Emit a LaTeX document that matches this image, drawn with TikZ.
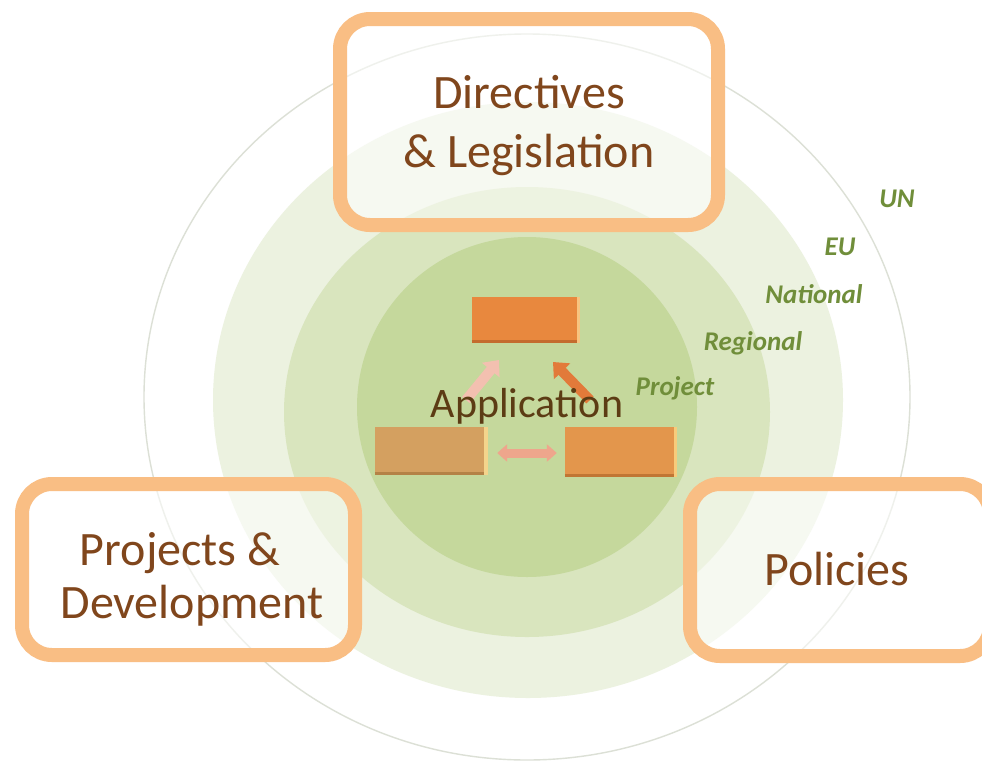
\documentclass[tikz,border=0pt]{standalone}
\usepackage{fontspec}
\setmainfont{Carlito}
\usetikzlibrary{arrows.meta}
\definecolor{ringline}{RGB}{220,224,214}
\definecolor{ringA}{RGB}{236,242,224}
\definecolor{ringB}{RGB}{217,229,190}
\definecolor{ringC}{RGB}{197,216,156}
\definecolor{boxline}{RGB}{249,190,132}
\definecolor{boxtext}{RGB}{128,70,28}
\definecolor{apptext}{RGB}{92,60,20}
\definecolor{lvltext}{RGB}{112,142,58}
\definecolor{blkA}{RGB}{232,136,62}
\definecolor{blkAb}{RGB}{247,196,128}
\definecolor{blkAs}{RGB}{196,108,46}
\definecolor{blkB}{RGB}{212,160,96}
\definecolor{blkBb}{RGB}{244,212,140}
\definecolor{blkBs}{RGB}{180,130,70}
\definecolor{blkC}{RGB}{227,150,76}
\definecolor{blkCb}{RGB}{247,204,124}
\definecolor{blkCs}{RGB}{192,118,52}
\definecolor{arrPink}{RGB}{243,192,176}
\definecolor{arrOrange}{RGB}{226,122,58}
\definecolor{arrSalmon}{RGB}{238,166,140}
\tikzset{
  framebox/.style={draw=boxline, line width=14pt, rounded corners=30pt, fill=white, fill opacity=0.55, inner sep=0pt},
  bigtext/.style={anchor=base, text=boxtext, font=\fontsize{48}{58}\selectfont, inner sep=0pt},
  lvl/.style={anchor=base, text=lvltext, font=\fontsize{27}{32}\selectfont\bfseries\itshape, inner sep=0pt},
  blk/.style={rectangle, inner sep=0pt},
  blkarrow/.style={line width=10pt, -{Triangle[length=13pt,width=22pt]}},
  dblarrow/.style={line width=9pt, {Triangle[length=10pt,width=17pt]}-{Triangle[length=10pt,width=17pt]}},
}
\begin{document}
\begin{tikzpicture}[x=1pt,y=-1pt]
\useasboundingbox (0,0) rectangle (982,769);
\fill[white] (0,0) rectangle (982,769);
% rings
\fill[ringA] (528,400) ellipse [x radius=315, y radius=298];
\fill[ringB] (527,412) ellipse [x radius=243, y radius=225];
\fill[ringC] (527,407) ellipse [x radius=170, y radius=170];
\draw[ringline, line width=1.4pt] (527,397) ellipse [x radius=383, y radius=363];
% level labels
\node[lvl] (un) at (897,207) {UN};
\node[lvl] (eu) at (840,255) {EU};
\node[lvl] (nat) at (814,303) {National};
\node[lvl] (reg) at (753,350) {Regional};
\node[lvl] (proj) at (675,395) {Project};
% frame boxes
\node[framebox, minimum width=378pt, minimum height=206pt] (dir) at (529,122) {};
\node[framebox, minimum width=333pt, minimum height=171pt] (pd) at (188.5,569.5) {};
\node[framebox, minimum width=300pt, minimum height=172pt] (pol) at (840,570) {};
\node[bigtext] (dirA) at (529,108) {Directives};
\node[bigtext] (dirB) at (529,167) {\& Legislation};
\node[bigtext] (pdA) at (180,565) {Projects \&};
\node[bigtext] (pdB) at (192,618) {Development};
\node[bigtext] (polA) at (837,585) {Policies};
% blocks
\node[blk, fill=blkA, minimum width=108pt, minimum height=46pt] (top) at (526,320) {};
\node[blk, fill=blkB, minimum width=113pt, minimum height=48pt] (bl) at (431.5,451) {};
\node[blk, fill=blkC, minimum width=112pt, minimum height=50pt] (br) at (621,452) {};
\draw[blkAs, line width=3pt] ([yshift=1.5pt]top.south west) -- ([yshift=1.5pt]top.south east);
\draw[blkAb, line width=3pt] ([xshift=-1.5pt]top.north east) -- ([xshift=-1.5pt]top.south east);
\draw[blkBs, line width=3pt] ([yshift=1.5pt]bl.south west) -- ([yshift=1.5pt]bl.south east);
\draw[blkBb, line width=4pt] ([xshift=-2pt]bl.north east) -- ([xshift=-2pt]bl.south east);
\draw[blkCs, line width=3pt] ([yshift=1.5pt]br.south west) -- ([yshift=1.5pt]br.south east);
\draw[blkCb, line width=3pt] ([xshift=-1.5pt]br.north east) -- ([xshift=-1.5pt]br.south east);
% arrows
\coordinate (a1s) at (466,400);
\coordinate (a1e) at (499,360);
\coordinate (a2s) at (590,400);
\coordinate (a2e) at (553,362);
\draw[blkarrow, arrPink] (a1s) -- (a1e);
\draw[blkarrow, arrOrange] (a2s) -- (a2e);
\draw[dblarrow, arrSalmon] ([xshift=9pt]bl.east |- 0,453) -- ([xshift=-8pt]br.west |- 0,453);
% application
\node[anchor=base, text=apptext, font=\fontsize{42}{48}\selectfont, inner sep=0pt] (app) at (527,417) {Application};
\end{tikzpicture}
\end{document}
